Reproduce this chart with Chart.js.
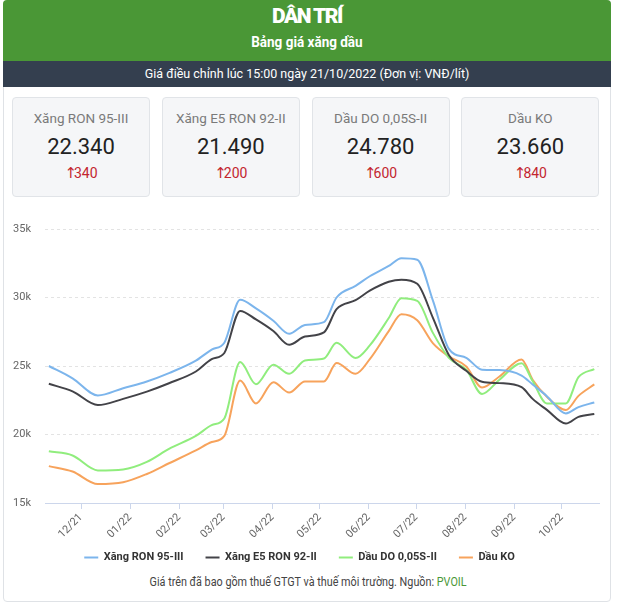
<!DOCTYPE html>
<html lang="vi">
<head>
<meta charset="UTF-8">
<title>Bảng giá xăng dầu</title>
<script src="https://cdn.jsdelivr.net/npm/chart.js@4.4.0/dist/chart.umd.min.js"></script>
<style>
  body { margin: 0; background: #fff; font-family: Roboto, "Noto Sans", sans-serif; }
  .frame { position: absolute; left: 3px; top: 0; width: 606px; height: 600px; border: 1px solid #dfe2e6; border-radius: 4px; }
  .head { position: absolute; left: 3px; top: 0; width: 608px; height: 61px; background: #4a9736; border-radius: 4px 4px 0 0; color: #fff; text-align: center; }
  .logo { position: absolute; left: 0; right: 0; top: 4px; font-size: 21px; font-weight: 900; letter-spacing: -1.5px; }
  .title { position: absolute; left: 0; right: 0; top: 33px; font-size: 15px; font-weight: bold; }
  .bar { position: absolute; left: 3px; top: 61px; width: 608px; height: 26px; background: #343f4f; color: #fff; text-align: center; font-size: 13px; line-height: 26px; }
  .cond { display: inline-block; transform: scaleX(0.9); white-space: nowrap; }
  .bar .cond { transform: scaleX(0.96); }
  .card { position: absolute; top: 97px; width: 136px; height: 98px; background: #f5f6f8; border: 1px solid #e1e4e8; border-radius: 4px; text-align: center; }
  .card .lbl { position: absolute; left: 0; right: 0; top: 12px; font-size: 13.5px; color: #7a7a7a; }
  .card .val { position: absolute; left: 0; right: 0; top: 36px; font-size: 22px; color: #222; }
  .card .chg { position: absolute; left: 0; right: 0; top: 66px; font-size: 14px; color: #c3252f; }
  .card .chg i { font-style: normal; font-family: "DejaVu Sans", sans-serif; font-size: 15px; margin-right: -3px; }
  #chart { position: absolute; left: 0; top: 205px; }
  .note { position: absolute; left: 0; width: 617px; top: 575px; text-align: center; font-size: 12px; color: #444; }
  .note b { font-weight: normal; color: #4a9736; }
</style>
</head>
<body>
<div class="frame"></div>
<div class="head">
  <div class="logo">DÂN TRÍ</div>
  <div class="title"><span class="cond">Bảng giá xăng dầu</span></div>
</div>
<div class="bar"><span class="cond">Giá điều chỉnh lúc 15:00 ngày 21/10/2022 (Đơn vị: VNĐ/lít)</span></div>
<div id="cards"></div>
<canvas id="chart" width="617" height="368"></canvas>
<div class="note"><span class="cond">Giá trên đã bao gồm thuế GTGT và thuế môi trường. Nguồn: <b>PVOIL</b></span></div>

<script>
  // price adjustment dates (VND/litre)
  const dates = [
    "2021-11-10", "2021-11-25", "2021-12-11", "2021-12-27", "2022-01-11", "2022-01-25",
    "2022-02-11", "2022-02-21", "2022-03-01", "2022-03-11", "2022-03-21", "2022-04-01",
    "2022-04-11", "2022-04-21", "2022-05-03", "2022-05-11", "2022-05-23", "2022-06-01",
    "2022-06-13", "2022-06-21", "2022-07-01", "2022-07-11", "2022-07-21", "2022-08-01",
    "2022-08-11", "2022-08-22", "2022-09-05", "2022-09-12", "2022-09-21", "2022-10-03",
    "2022-10-11", "2022-10-21"
  ];
  const ron95 = [
    25000, 24100, 22850, 23380, 23870, 24480, 25390, 26200, 26700, 29830, 29200, 28300,
    27350, 28000, 28200, 30000, 30850, 31550, 32300, 32870, 32760, 29750, 26250, 25600,
    24730, 24700, 24300, 23650, 22800, 21540, 22000, 22340
  ];
  const e5ron92 = [
    23700, 23150, 22150, 22600, 23130, 23740, 24600, 25500, 25950, 29020, 28400, 27550,
    26550, 27150, 27450, 29150, 29800, 30500, 31150, 31300, 31000, 28500, 25800, 24650,
    23850, 23750, 23450, 22600, 21800, 20800, 21290, 21490
  ];
  const do005s = [
    18770, 18470, 17380, 17450, 18000, 18950, 19900, 20680, 21170, 25290, 23670, 25100,
    24430, 25400, 25550, 26690, 25580, 26500, 28500, 29950, 29760, 27400, 25600, 24730,
    22960, 24000, 25200, 23900, 22270, 22270, 24180, 24780
  ];
  const ko = [
    17690, 17300, 16380, 16510, 17120, 17900, 18840, 19450, 19900, 23940, 22270, 23820,
    23060, 23870, 23870, 25220, 24430, 25500, 27550, 28780, 28340, 26650, 25700, 24970,
    23430, 24230, 25470, 24000, 22760, 21790, 22820, 23660
  ];
  const seriesNames = ["Xăng RON 95-III", "Xăng E5 RON 92-II", "Dầu DO 0,05S-II", "Dầu KO"];
  const latest = [22340, 21490, 24780, 23660];
  const change = [340, 200, 600, 840];
  const tickLabels = ["12/21", "01/22", "02/22", "03/22", "04/22", "05/22", "06/22", "07/22", "08/22", "09/22", "10/22"];
  const yTicks = [15000, 20000, 25000, 30000, 35000];

  const colors = ["#7cb5ec", "#434348", "#90ed7d", "#f7a35c"];

  // days since 1 Dec 2021
  const origin = Date.UTC(2021, 11, 1);
  function dayOf(str) {
    const p = str.split("-").map(Number);
    return (Date.UTC(p[0], p[1] - 1, p[2]) - origin) / 86400000;
  }
  const xs = dates.map(d => dayOf(d) + 0.625); // adjustments at 15:00
  const monthTicks = tickLabels.map(l => {
    const [m, y] = l.split("/").map(Number);
    return dayOf(`20${y}-${String(m).padStart(2, "0")}-01`);
  });

  const fmt = n => n.toLocaleString("de-DE");
  document.getElementById("cards").innerHTML = seriesNames.map((name, i) =>
    `<div class="card" style="left:${12 + i * 149.8}px">
       <div class="lbl">${name}</div>
       <div class="val">${fmt(latest[i])}</div>
       <div class="chg"><i>↑</i>${change[i]}</div>
     </div>`).join("");

  const allSeries = [ron95, e5ron92, do005s, ko];
  const datasets = allSeries.map((vals, i) => ({
    label: seriesNames[i],
    data: vals.map((v, j) => ({ x: xs[j], y: v })),
    borderColor: colors[i],
    backgroundColor: colors[i],
    borderWidth: 2,
    pointRadius: 0,
    cubicInterpolationMode: "monotone",
    fill: false
  }));

  new Chart(document.getElementById("chart"), {
    type: "line",
    data: { datasets },
    options: {
      responsive: false,
      animation: false,
      layout: { padding: { top: 24, right: 18, left: 0, bottom: 0 } },
      plugins: {
        tooltip: { enabled: false },
        legend: {
          position: "bottom",
          labels: {
            usePointStyle: true,
            pointStyle: "line",
            pointStyleWidth: 14,
            boxWidth: 14,
            padding: 22,
            color: "#333",
            font: { family: "Roboto, sans-serif", size: 11, weight: "bold" }
          }
        }
      },
      scales: {
        x: {
          type: "linear",
          min: -22.8,
          max: 327.6,
          afterBuildTicks: s => { s.ticks = monthTicks.map(v => ({ value: v })); },
          afterFit: s => {
            s.height = 27;
            s._computeLabelArea = () => null; // let rotated labels run past the short axis box
          },
          ticks: {
            autoSkip: false,
            minRotation: 45,
            maxRotation: 45,
            color: "#666",
            font: { family: "Roboto", size: 11 },
            padding: 2,
            callback: (v, i) => tickLabels[i]
          },
          grid: { drawOnChartArea: false, color: "#ccd6eb", tickLength: 6 },
          border: { color: "#ccd6eb" }
        },
        y: {
          min: yTicks[0],
          max: yTicks[yTicks.length - 1],
          afterBuildTicks: s => { s.ticks = yTicks.map(v => ({ value: v })); },
          afterFit: s => { s.width = 45; },
          ticks: {
            color: "#666",
            font: { family: "Roboto", size: 11 },
            padding: 14,
            callback: v => v / 1000 + "k"
          },
          grid: { color: "#e3e3e3", drawTicks: false },
          border: { display: false, dash: [3, 3] }
        }
      }
    }
  });
</script>
</body>
</html>
